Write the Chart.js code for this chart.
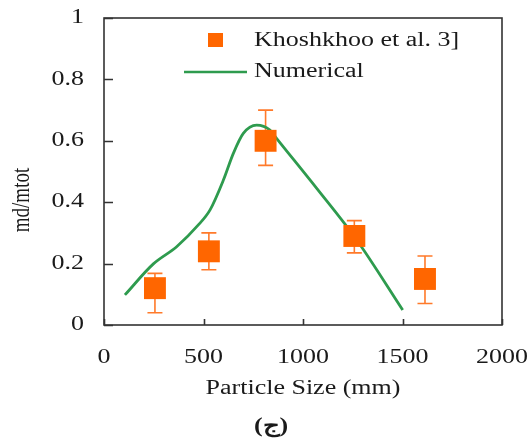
<!DOCTYPE html>
<html>
<head>
<meta charset="utf-8">
<script src="https://cdn.jsdelivr.net/npm/chart.js@4.4.0/dist/chart.umd.min.js"></script>
<style>
  html, body { margin: 0; padding: 0; background: #fff; }
  #wrap { width: 532px; height: 442px; }
</style>
</head>
<body>
<div id="wrap"><canvas id="grafico"></canvas></div>
<script>
// experimental points (Khoshkhoo et al.)
const expX = [256, 527, 812, 1258, 1613];
const expY = [0.12, 0.24, 0.60, 0.29, 0.15];
const errLow = [0.04, 0.18, 0.52, 0.235, 0.07];
const errHigh = [0.168, 0.30, 0.70, 0.34, 0.225];

// numerical curve
const numX = [105, 248, 365, 474, 533, 600, 650, 700, 767, 834, 867, 1069, 1270, 1501];
const numY = [0.098, 0.199, 0.255, 0.326, 0.375, 0.472, 0.559, 0.624, 0.651, 0.635, 0.608, 0.445, 0.277, 0.049];

const xTicks = [0, 500, 1000, 1500, 2000];
const yTicks = [0, 0.2, 0.4, 0.6, 0.8, 1];

const orange = '#ff6600';
const green = '#2e9b4e';
const axisCol = '#333333';
const fonte = '"Liberation Serif", "Times New Roman", serif';
const esticar = 1.3; // the picture is wider than tall, text looks stretched

function texto(ctx, s, x, y, align) {
    ctx.save();
    ctx.translate(x, y);
    ctx.scale(esticar, 1);
    ctx.textAlign = align;
    ctx.fillText(s, 0, 0);
    ctx.restore();
}

let extras = {
    id: 'extras',
    beforeDatasetsDraw(chart) {
        const ctx = chart.ctx;
        const xs = chart.scales.x, ys = chart.scales.y;
        ctx.save();
        ctx.strokeStyle = '#ff7a2a';
        ctx.lineWidth = 1.6;
        for (let i = 0; i < expX.length; i++) {
            let px = xs.getPixelForValue(expX[i]);
            let top = ys.getPixelForValue(errHigh[i]);
            let bot = ys.getPixelForValue(errLow[i]);
            ctx.beginPath();
            ctx.moveTo(px, top); ctx.lineTo(px, bot);
            ctx.moveTo(px - 7.5, top); ctx.lineTo(px + 7.5, top);
            ctx.moveTo(px - 7.5, bot); ctx.lineTo(px + 7.5, bot);
            ctx.stroke();
        }
        ctx.restore();
    },
    afterDraw(chart) {
        const ctx = chart.ctx;
        const a = chart.chartArea;
        const xs = chart.scales.x, ys = chart.scales.y;
        ctx.save();
        // frame
        ctx.strokeStyle = axisCol;
        ctx.lineWidth = 1.6;
        ctx.strokeRect(a.left, a.top, a.right - a.left, a.bottom - a.top);
        // inside ticks
        ctx.beginPath();
        yTicks.forEach(v => {
            let py = Math.round(ys.getPixelForValue(v)) + 0.5;
            ctx.moveTo(a.left, py); ctx.lineTo(a.left + 9, py);
        });
        xTicks.forEach(v => {
            let px = Math.round(xs.getPixelForValue(v)) + 0.5;
            ctx.moveTo(px, a.bottom); ctx.lineTo(px, a.bottom - 6);
        });
        ctx.stroke();

        ctx.fillStyle = '#1a1a1a';
        ctx.font = '20px ' + fonte;
        ctx.textBaseline = 'middle';
        // tick labels
        yTicks.forEach(v => texto(ctx, String(v), a.left - 20, ys.getPixelForValue(v), 'right'));
        xTicks.forEach(v => texto(ctx, String(v), xs.getPixelForValue(v), 358, 'center'));
        // x title
        texto(ctx, 'Particle Size (mm)', (a.left + a.right) / 2, 389, 'center');

        // legend
        ctx.fillStyle = orange;
        ctx.fillRect(208, 33, 15, 14);
        ctx.strokeStyle = green;
        ctx.lineWidth = 2.6;
        ctx.beginPath();
        ctx.moveTo(184, 72); ctx.lineTo(247, 72);
        ctx.stroke();
        ctx.fillStyle = '#1a1a1a';
        texto(ctx, 'Khoshkhoo et al. 3]', 254, 41, 'left');
        texto(ctx, 'Numerical', 254, 72, 'left');

        // y title
        ctx.save();
        ctx.translate(23, 200);
        ctx.rotate(-Math.PI / 2);
        ctx.scale(1, esticar);
        ctx.font = '19px ' + fonte;
        ctx.textAlign = 'center';
        ctx.fillText('md/mtot', 0, 0);
        ctx.restore();

        // caption
        ctx.font = 'bold 20px ' + fonte;
        texto(ctx, '(ج)', 271, 427, 'center');
        ctx.restore();
    }
};

let grafico = document.getElementById('grafico').getContext('2d');

let chart = new Chart(grafico, {
    type: 'scatter',
    data: {
        datasets: [{
                label: 'Khoshkhoo et al. 3]',
                data: expX.map((x, i) => ({x: x, y: expY[i]})),
                pointStyle: 'rect',
                pointRadius: 15.5,
                backgroundColor: orange,
                borderColor: orange,
                borderWidth: 0,
                order: 1
            },
            {
                label: 'Numerical',
                data: numX.map((x, i) => ({x: x, y: numY[i]})),
                showLine: true,
                cubicInterpolationMode: 'monotone',
                pointRadius: 0,
                borderColor: green,
                borderWidth: 2.8,
                order: 2
            }
        ]
    },
    options: {
        responsive: true,
        maintainAspectRatio: false,
        animation: false,
        layout: { padding: { left: 0, right: 30, top: 18, bottom: 0 } },
        plugins: { legend: { display: false }, tooltip: { enabled: false } },
        scales: {
            x: {
                min: 0, max: 2000,
                grid: { display: false },
                border: { display: false },
                ticks: { display: false },
                afterFit: s => { s.height = 117; }
            },
            y: {
                min: 0, max: 1,
                grid: { display: false },
                border: { display: false },
                ticks: { display: false },
                afterFit: s => { s.width = 104; }
            }
        }
    },
    plugins: [extras]
});
</script>
</body>
</html>
